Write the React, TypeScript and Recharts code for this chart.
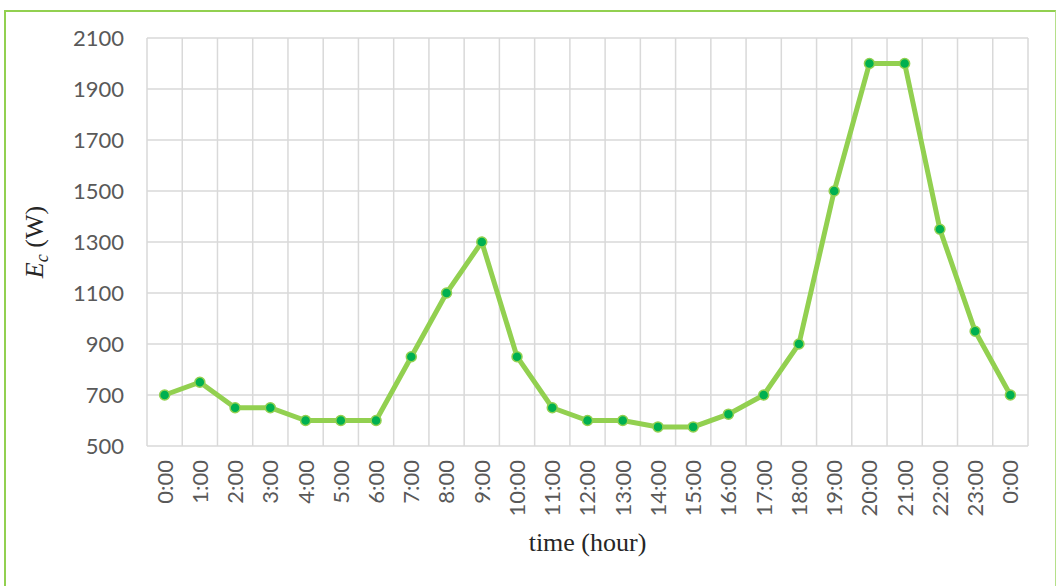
import React from "react";
import { LineChart, Line, XAxis, YAxis, CartesianGrid } from "recharts";

const hourLabels = [
  "0:00", "1:00", "2:00", "3:00", "4:00", "5:00", "6:00", "7:00", "8:00", "9:00",
  "10:00", "11:00", "12:00", "13:00", "14:00", "15:00", "16:00", "17:00", "18:00",
  "19:00", "20:00", "21:00", "22:00", "23:00", "0:00",
];
const ecValues = [
  700, 750, 650, 650, 600, 600, 600, 850, 1100, 1300, 850, 650, 600, 600, 575, 575,
  625, 700, 900, 1500, 2000, 2000, 1350, 950, 700,
];
const yTicks = [500, 700, 900, 1100, 1300, 1500, 1700, 1900, 2100];

const data = hourLabels.map((label, i) => ({ i, label, ec: ecValues[i] }));
const xTicks = hourLabels.map((_, i) => i);

const TICK_FONT = "Lato, 'Open Sans', sans-serif";
const SERIF = "'Liberation Serif', 'Times New Roman', serif";

const XTick = (props: any) => {
  const { x, y, payload } = props;
  return (
    <text
      transform={`translate(${x},${y}) rotate(-90)`}
      textAnchor="end"
      dy="0.36em"
      fontSize={22}
      fontFamily={TICK_FONT}
      fill="#595959"
    >
      {hourLabels[payload.value]}
    </text>
  );
};

const YLabel = (props: any) => {
  const vb = props.viewBox || { x: 0, y: 38, width: 147, height: 408 };
  const cx = 34;
  const cy = vb.y + vb.height / 2;
  return (
    <text
      transform={`rotate(-90, ${cx}, ${cy})`}
      x={cx}
      y={cy + 9}
      textAnchor="middle"
      fontSize={26}
      fontFamily={SERIF}
      fill="#262626"
    >
      <tspan fontStyle="italic">E</tspan>
      <tspan fontStyle="italic" fontSize={18} dy={5}>c</tspan>
      <tspan dy={-5}> (W)</tspan>
    </text>
  );
};

const XLabel = (props: any) => {
  const vb = props.viewBox || { x: 147, y: 446, width: 881, height: 140 };
  return (
    <text
      x={vb.x + vb.width / 2}
      y={vb.y + 105}
      textAnchor="middle"
      fontSize={26}
      fontFamily={SERIF}
      fill="#262626"
    >
      time (hour)
    </text>
  );
};

export default function App() {
  const vGen = (args: any) => {
    const off = args.offset;
    const n = hourLabels.length;
    const sc = args.xAxis && args.xAxis.scale;
    const out: number[] = [];
    for (let k = 0; k <= n; k++) {
      if (typeof sc === "function") out.push(sc(k - 0.5));
      else out.push(off.left + (k * off.width) / n);
    }
    return out;
  };
  return (
    <div style={{ position: "absolute", left: 0, top: 0, width: 1058, height: 586, background: "#fff" }}>
      <div
        style={{
          position: "absolute",
          left: 4,
          top: 10,
          width: 1049,
          height: 600,
          borderLeft: "2px solid #92D050",
          borderTop: "2px solid #92D050",
          borderRight: "1px solid #B5DF8A",
        }}
      />
      <div style={{ position: "absolute", left: 0, top: 0 }}>
        <LineChart width={1058} height={586} data={data} margin={{ top: 38, right: 30, bottom: 0, left: 0 }}>
          <CartesianGrid stroke="#D9D9D9" strokeWidth={1.5} verticalCoordinatesGenerator={vGen} />
          <XAxis
            dataKey="i"
            type="number"
            domain={[-0.5, 24.5]}
            ticks={xTicks}
            interval={0}
            height={140}
            tickLine={false}
            axisLine={false}
            tickSize={0}
            tickMargin={14}
            tick={<XTick />}
            label={<XLabel />}
          />
          <YAxis
            domain={[500, 2100]}
            ticks={yTicks}
            width={147}
            tickLine={false}
            axisLine={false}
            tickSize={0}
            tickMargin={23}
            tick={{ fontSize: 22, fontFamily: TICK_FONT, fill: "#595959" }}
            label={<YLabel />}
          />
          <Line
            dataKey="ec"
            stroke="#92D050"
            strokeWidth={5}
            isAnimationActive={false}
            dot={{ r: 5, fill: "#00B050", stroke: "#92D050", strokeWidth: 1.5 }}
            activeDot={false}
          />
        </LineChart>
      </div>
    </div>
  );
}
